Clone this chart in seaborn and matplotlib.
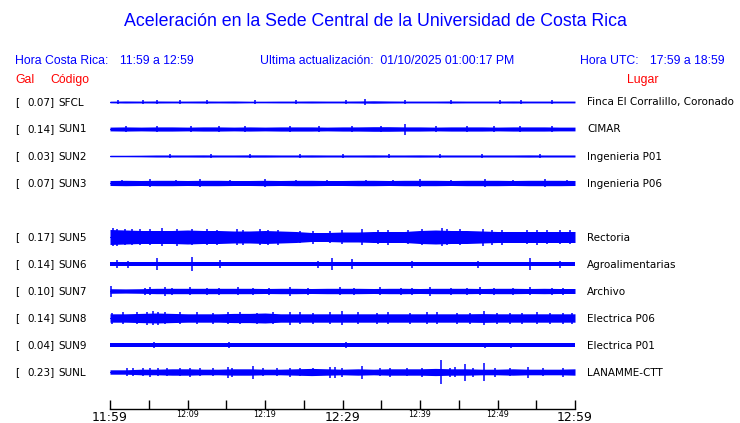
import numpy as np
import pandas as pd
import matplotlib
matplotlib.use("Agg")
import matplotlib.pyplot as plt
import seaborn as sns

# ---------------- data ----------------
codes = ["SFCL", "SUN1", "SUN2", "SUN3", "SUN4", "SUN5", "SUN6", "SUN7", "SUN8", "SUN9", "SUNL"]
peaks = [0.07, 0.14, 0.03, 0.07, None, 0.17, 0.14, 0.10, 0.14, 0.04, 0.23]
places = ["Finca El Corralillo, Coronado", "CIMAR", "Ingenieria P01", "Ingenieria P06", None,
          "Rectoria", "Agroalimentarias", "Archivo", "Electrica P06", "Electrica P01", "LANAMME-CTT"]

# envelope sample times (minutes after 11:59)
env_times = list(range(0, 61, 2))
# half-amplitude envelopes (pixel units)
env_SFCL = [0.8,1.0,0.9,1.0,0.9,0.9,1.0,0.9,1.0,0.8,0.8,0.9,0.9,1.0,0.9,0.9,1.0,1.2,1.0,0.9,0.9,0.9,1.0,0.9,0.9,0.9,1.0,0.9,0.9,0.9,0.9]
env_SUN1 = [1.9,2.1,1.9,2.1,2.1,1.9,2.1,2.1,1.9,2.1,1.9,2.1,2.1,2.1,1.9,2.1,2.1,2.3,2.3,2.1,2.1,1.9,2.1,2.1,2.1,1.9,2.1,2.1,2.1,1.9,1.9]
env_SUN2 = [0.7,0.7,0.8,1.0,1.0,1.0,1.1,1.0,1.0,1.1,1.1,1.0,1.0,1.1,1.0,1.0,1.0,1.1,1.0,1.0,1.1,1.0,1.0,1.0,1.0,1.0,1.0,1.1,1.0,1.0,1.0]
env_SUN3 = [2.5,2.7,2.5,2.7,2.7,2.5,2.7,2.7,2.5,2.5,2.7,2.5,2.7,2.7,2.5,2.5,2.7,2.7,2.5,2.7,2.7,2.7,2.5,2.7,2.7,2.7,2.5,2.7,2.7,2.7,2.5]
env_SUN5 = [7.5,7.0,6.5,6.5,6.5,7.0,6.5,6.5,6.0,6.0,6.5,6.0,5.5,4.5,4.5,5.0,5.0,5.5,5.5,5.5,6.5,7.0,6.5,6.5,6.0,5.5,5.5,5.5,5.5,5.5,5.5]
env_SUN6 = [2.4]*31
env_SUN7 = [2.3,2.1,2.3,2.7,2.7,2.7,2.7,2.7,2.7,2.7,2.5,2.7,2.7,2.5,2.7,2.7,2.7,2.5,2.7,2.7,2.5,2.7,2.7,2.7,2.5,2.7,2.7,2.5,2.7,2.5,2.5]
env_SUN8 = [4.2,4.2,4.6,5.0,4.6,4.2,4.2,4.2,4.6,4.6,5.0,4.2,4.2,4.2,4.2,4.2,4.2,4.2,4.2,4.2,4.2,4.2,4.2,4.2,4.4,4.2,4.2,4.2,4.2,4.2,4.2]
env_SUN9 = [2.0]*31
env_SUNL = [2.2,2.2,2.8,2.8,3.2,3.2,2.8,2.8,3.2,3.2,2.8,2.8,3.2,3.6,3.2,2.8,3.2,2.8,3.2,3.2,3.2,3.6,3.2,3.2,2.8,2.8,3.2,2.8,2.8,2.8,3.2]

# spikes: (minute, half-amplitude in pixels)
spk_SFCL = [(1.0,1.8),(4.3,2.2),(6.0,1.8),(9.0,2.2),(12.5,1.8),(18.7,2.2),(24.0,1.8),(30.5,1.8),(32.9,3),(38.0,1.8),(44.0,1.8),(50.3,2.2),(53.0,1.8),(57.0,1.8)]
spk_SUN1 = [(2.0,2.8),(6.0,2.8),(10.5,2.8),(14.0,2.8),(17.4,3),(23.2,3.2),(27.0,2.8),(31.2,3.2),(35.0,2.8),(38.1,5.5),(42.0,2.8),(46.0,2.8),(49.5,2.8),(52.9,3),(57.0,2.8)]
spk_SUN2 = [(7.7,2),(13.0,1.8),(18.0,1.8),(24.5,2.2),(30.0,1.8),(36.0,1.8),(42.6,2.2),(48.0,1.8),(55.5,2)]
spk_SUN3 = [(1.5,3.4),(5.2,3.6),(8.5,3.4),(11.6,3.6),(15.5,3.4),(20.0,3.6),(24.0,3.4),(28.0,3.4),(33.0,3.4),(36.5,3.4),(40.0,3.6),(44.0,3.4),(48.4,3.6),(52.0,3.4),(56.1,3.6),(59.0,3.4)]
spk_SUN5 = [(0.4,9),(0.9,8.5),(1.9,8),(2.8,8),(3.9,8),(5.2,8),(6.7,9),(8.6,8.5),(10.6,8),(12.5,8),(13.8,7.5),
            (16.4,8),(17.2,7.5),(19.4,8),(20.4,7.5),(21.7,7.5),(24.5,6),(26.2,6.5),(28.4,6),(29.9,7),(32.5,8),
            (34.6,7),(35.9,7.5),(38.5,7),(40.3,8),(42.8,9),(43.5,8),(45.2,8),(48.1,8.5),(49.3,7.5),(50.6,7.5),
            (53.8,7),(55.1,7.5),(56.4,7),(58.1,7),(59.4,7)]
spk_SUN6 = [(0.9,4),(2.3,3.5),(6.1,6),(10.6,7),(14.2,4),(26.8,3.5),(28.6,6),(31.2,5),(39.0,3.5),(47.5,3.5),(54.2,6),(58.1,3.5)]
spk_SUN7 = [(0.1,5.5),(4.5,3.5),(5.2,4),(7.1,4.5),(8.0,3.5),(10.3,4),(12.5,3.5),(14.0,3.5),(16.5,4),(18.5,3.5),
            (20.5,3.5),(23.2,4.5),(25.5,3.5),(29.7,4),(31.5,3.5),(34.8,4),(37.5,3.5),(39.0,3.5),(41.3,4.5),(44.0,3.5),
            (46.0,3.5),(47.7,4),(49.5,3.5),(52.0,3.5),(54.2,4),(57.0,3.5),(58.5,3.5)]
spk_SUN8 = [(0.3,5.5),(1.7,6),(3.5,6),(4.8,6.5),(5.5,7),(6.2,6.5),(7.1,6),(9.0,6),(11.2,6),(13.3,5.5),
            (15.2,6),(16.8,6),(19.0,5.5),(21.0,6),(23.2,6.5),(24.5,6),(26.2,5.5),(28.4,6),(29.9,7),(32.0,6),
            (34.5,5.5),(35.9,6),(38.7,5.5),(40.9,6),(42.2,6),(44.8,5.5),(46.5,5.5),(48.3,7),(49.9,5.5),
            (51.6,5.5),(53.2,5.5),(55.1,6),(56.8,5.5),(58.5,5.5),(59.6,5.5)]
spk_SUN9 = [(5.7,3.2),(15.4,2.8),(30.5,2.8),(48.4,2.5),(51.7,2.5)]
spk_SUNL = [(2.2,4),(3.0,4),(4.3,4),(5.2,4.5),(6.2,4),(7.4,4),(9.0,4),(10.3,4.5),(11.6,4),(13.3,4),
            (15.2,5.5),(15.8,4.5),(18.5,6.5),(19.8,4),(21.5,4),(23.2,4.5),(24.5,4),(26.2,4),(28.4,5.5),(29.0,5.5),
            (29.9,4.5),(32.5,6.5),(34.8,4),(36.1,4.5),(38.3,4),(40.3,4.5),(42.7,12),(43.9,4.5),(44.5,5),(45.8,8.5),
            (46.8,4.5),(48.3,9),(49.7,4.5),(51.6,4),(53.9,5.5),(55.9,4),(58.5,4.5)]

envs = [env_SFCL, env_SUN1, env_SUN2, env_SUN3, None, env_SUN5, env_SUN6, env_SUN7, env_SUN8, env_SUN9, env_SUNL]
spks = [spk_SFCL, spk_SUN1, spk_SUN2, spk_SUN3, None, spk_SUN5, spk_SUN6, spk_SUN7, spk_SUN8, spk_SUN9, spk_SUNL]

tick_minutes = list(range(0, 61, 5))
label_minutes = [0, 10, 20, 30, 40, 50, 60]
label_texts = ["11:59", "12:09", "12:19", "12:29", "12:39", "12:49", "12:59"]
big_labels = ["11:59", "12:29", "12:59"]

# ---------------- style ----------------
sns.set_theme(style="white")
plt.rcParams['font.family'] = ['DejaVu Sans']

W, H = 740, 423
fig = plt.figure(figsize=(W/100, H/100), dpi=100)
BLUE = "#0000FF"
RED = "#FF0000"
ROW = 27.0  # pixel spacing between rows

# axes: x 110..575 px, y 90..409 px (from top)
x0, x1 = 110, 575
ytop, ybot = 90, 409
ax = fig.add_axes([x0/W, 1-ybot/H, (x1-x0)/W, (ybot-ytop)/H])
ax.set_xlim(0, 60)
ax.set_ylim((ybot-102)/ROW, (ytop-102)/ROW)

for i, (env, spk) in enumerate(zip(envs, spks)):
    if env is None:
        continue
    e = np.array(env) / ROW
    df = pd.DataFrame({"t": env_times, "lo": i - e, "hi": i + e})
    ax.fill_between(df["t"], df["lo"], df["hi"], color=BLUE, linewidth=0)
    st = [s[0] for s in spk]
    sa = [s[1] / ROW for s in spk]
    ax.vlines(st, [i - a for a in sa], [i + a for a in sa], color=BLUE, linewidth=1.1)
    sns.lineplot(x=[0, 60], y=[i, i], ax=ax, color=BLUE, linewidth=0.8)

# axis styling
sns.despine(ax=ax, left=True, top=True, right=True, bottom=False)
ax.spines['bottom'].set_color('black')
ax.spines['bottom'].set_linewidth(1.0)
ax.set_yticks([])
ax.set_xticks(tick_minutes)
ax.set_xticklabels([])
ax.tick_params(axis='x', direction='in', length=6.5, width=1.0, color='black', bottom=True)
ax.grid(False)


def ftxt(x, y, s, **kw):
    fig.text(x/W, 1-y/H, s, **kw)


for m, lab in zip(label_minutes, label_texts):
    big = lab in big_labels
    ftxt(x0 + m*(x1-x0)/60, 417 if big else 414, lab, ha='center', va='center',
         fontsize=9 if big else 5.8, color='black')

# ---------------- texts ----------------
sans = ['Liberation Sans', 'DejaVu Sans']
ftxt(375, 22, "Aceleración en la Sede Central de la Universidad de Costa Rica", ha='center', va='center',
     fontsize=12.8, color=BLUE, family=sans)
hs = 8.8
ftxt(15, 61, "Hora Costa Rica:", ha='left', va='center', fontsize=hs, color=BLUE, family=sans)
ftxt(120, 61, "11:59 a 12:59", ha='left', va='center', fontsize=hs, color=BLUE, family=sans)
ftxt(260, 61, "Ultima actualización:  01/10/2025 01:00:17 PM", ha='left', va='center', fontsize=hs, color=BLUE, family=sans)
ftxt(580, 61, "Hora UTC:", ha='left', va='center', fontsize=hs, color=BLUE, family=sans)
ftxt(650, 61, "17:59 a 18:59", ha='left', va='center', fontsize=hs, color=BLUE, family=sans)
ftxt(15, 80, "Gal", ha='left', va='center', fontsize=hs, color=RED, family=sans)
ftxt(50, 80, "Código", ha='left', va='center', fontsize=hs, color=RED, family=sans)
ftxt(643, 80, "Lugar", ha='center', va='center', fontsize=hs, color=RED, family=sans)

for i, (c, p, pl) in enumerate(zip(codes, peaks, places)):
    if p is None:
        continue
    y = 102.5 + ROW*i
    ftxt(15, y, "[", ha='left', va='center', fontsize=7.5, color='black')
    ftxt(55, y, f"{p:.2f}]", ha='right', va='center', fontsize=7.5, color='black')
    ftxt(58, y, c, ha='left', va='center', fontsize=7.5, color='black')
    ftxt(587, y, pl, ha='left', va='center', fontsize=7.5, color='black')

fig.savefig("out.png", dpi=100)
